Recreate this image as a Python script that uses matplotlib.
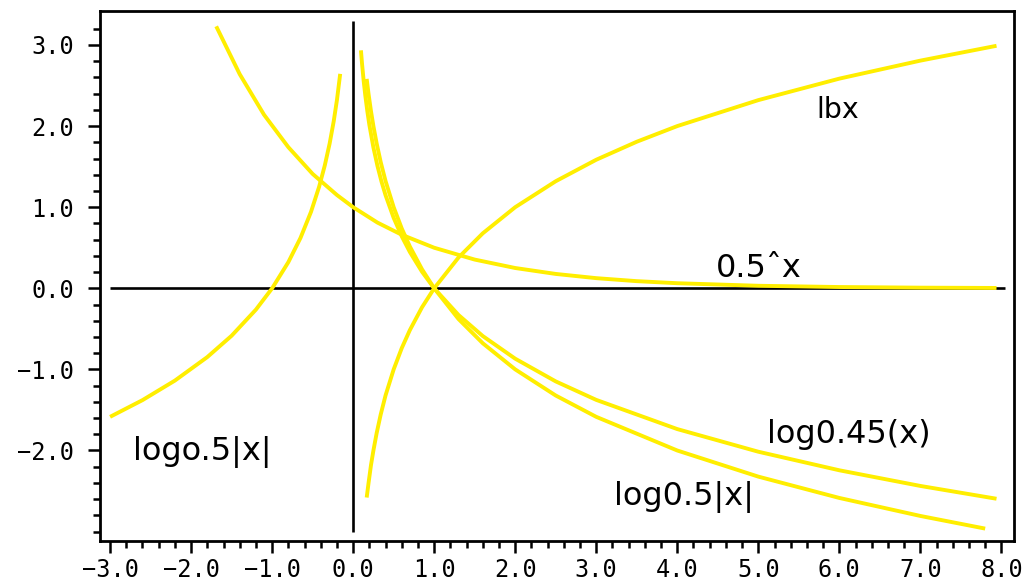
import numpy as np
import matplotlib
matplotlib.use("Agg")
import matplotlib.pyplot as plt
from matplotlib.ticker import FixedLocator, FuncFormatter

plt.rcParams["font.family"] = ["DejaVu Sans Mono"]

# ---- data ----
# log0.5|x| for negative x (left branch)
neg_x = [-3.0, -2.6, -2.2, -1.8, -1.5, -1.2, -1.0, -0.8, -0.65, -0.52, -0.42, -0.35, -0.29, -0.24, -0.2, -0.16]
neg_y = [-1.585, -1.379, -1.138, -0.848, -0.585, -0.263, 0.0, 0.322, 0.621, 0.943, 1.252, 1.515, 1.786, 2.059, 2.322, 2.644]

# 0.5^x
pow_x = [-1.69, -1.4, -1.1, -0.8, -0.5, -0.2, 0.0, 0.3, 0.6, 1.0, 1.5, 2.0, 2.5, 3.0, 3.5, 4.0, 5.0, 6.0, 7.0, 7.94]
pow_y = [3.23, 2.64, 2.14, 1.74, 1.41, 1.15, 1.0, 0.81, 0.66, 0.5, 0.354, 0.25, 0.177, 0.125, 0.088, 0.0625, 0.031, 0.0156, 0.0078, 0.004]

# lbx (log2 x)
lb_x = [0.167, 0.19, 0.22, 0.25, 0.29, 0.34, 0.4, 0.5, 0.6, 0.7, 0.85, 1.0, 1.3, 1.6, 2.0, 2.5, 3.0, 3.5, 4.0, 5.0, 6.0, 7.0, 7.94]
lb_y = [-2.58, -2.40, -2.18, -2.0, -1.786, -1.556, -1.32, -1.0, -0.737, -0.515, -0.234, 0.0, 0.379, 0.678, 1.0, 1.32, 1.585, 1.807, 2.0, 2.32, 2.585, 2.807, 2.99]

# log0.45(x)
l45_x = [0.096, 0.11, 0.13, 0.15, 0.175, 0.2, 0.25, 0.3, 0.35, 0.4, 0.5, 0.6, 0.7, 0.85, 1.0, 1.3, 1.6, 2.0, 2.5, 3.0, 4.0, 5.0, 6.0, 7.0, 7.94]
l45_y = [2.934, 2.764, 2.555, 2.376, 2.183, 2.015, 1.736, 1.508, 1.315, 1.147, 0.868, 0.640, 0.447, 0.204, 0.0, -0.329, -0.589, -0.868, -1.148, -1.376, -1.736, -2.015, -2.244, -2.437, -2.595]

# log0.5(x), positive branch
l5_x = [0.167, 0.19, 0.22, 0.25, 0.29, 0.34, 0.4, 0.5, 0.6, 0.7, 0.85, 1.0, 1.3, 1.6, 2.0, 2.5, 3.0, 4.0, 5.0, 6.0, 7.0, 7.8]
l5_y = [2.582, 2.396, 2.184, 2.0, 1.786, 1.556, 1.322, 1.0, 0.737, 0.515, 0.234, 0.0, -0.379, -0.678, -1.0, -1.322, -1.585, -2.0, -2.322, -2.585, -2.807, -2.963]

x_major = [-3, -2, -1, 0, 1, 2, 3, 4, 5, 6, 7, 8]
y_major = [-2, -1, 0, 1, 2, 3]

labels = ["lbx", "0.5ˆx", "log0.45(x)", "log0.5|x|", "logo.5|x|"]
label_x = [5.985, 5.006, 6.117, 4.081, -1.859]
label_y = [2.10, 0.143, -1.91, -2.67, -2.117]
label_size = [20.5, 23, 23, 23, 23]

YEL = "#FFEE00"

fig = plt.figure(figsize=(10.28, 5.85), dpi=100)
ax = fig.add_axes([0.0973, 0.0752, 0.8891, 0.906])
ax.set_xlim(-3.124, 8.156)
ax.set_ylim(-3.116, 3.419)

# coordinate axes inside the plot
ax.plot([-3.0, 8.05], [0, 0], color="black", lw=1.9, zorder=2, solid_capstyle="butt")
ax.plot([0, 0], [-3.0, 3.3], color="black", lw=1.9, zorder=2, solid_capstyle="butt")

for xs, ys in [(neg_x, neg_y), (pow_x, pow_y), (lb_x, lb_y), (l45_x, l45_y), (l5_x, l5_y)]:
    ax.plot(xs, ys, color=YEL, lw=2.8, zorder=3, solid_capstyle="butt")

for t, tx, ty, fs in zip(labels, label_x, label_y, label_size):
    ax.text(tx, ty, t, fontsize=fs, family="DejaVu Sans", ha="center", va="baseline", color="black")

for s in ax.spines.values():
    s.set_linewidth(2.0)

ax.xaxis.set_major_locator(FixedLocator(x_major))
ax.yaxis.set_major_locator(FixedLocator(y_major))
xminor = [round(v, 1) for v in np.arange(-3.0, 8.01, 0.2) if abs(v - round(v)) > 1e-6]
yminor = [round(v, 1) for v in np.arange(-3.0, 3.21, 0.2) if abs(v - round(v)) > 1e-6 or round(v) == -3]
ax.xaxis.set_minor_locator(FixedLocator(xminor))
ax.yaxis.set_minor_locator(FixedLocator(yminor))
fmt = FuncFormatter(lambda v, p: f"{v:.1f}".replace("-", "\u2212"))
ax.xaxis.set_major_formatter(fmt)
ax.yaxis.set_major_formatter(fmt)

ax.tick_params(which="major", direction="out", length=8.5, width=1.8, top=False, right=False, labelsize=17)
ax.tick_params(which="minor", direction="out", length=4.8, width=1.8, top=False, right=False)
ax.tick_params(axis="x", which="major", pad=3.5)
ax.tick_params(axis="y", which="major", pad=10)

fig.savefig("out.png", dpi=100, facecolor="white")
